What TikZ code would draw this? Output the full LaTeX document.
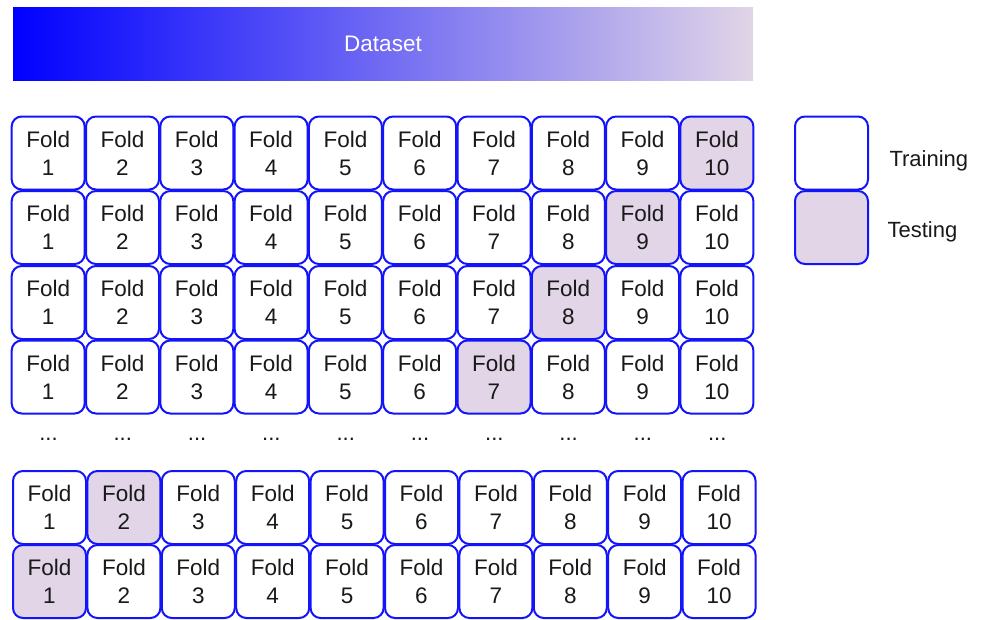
\documentclass[tikz,border=0pt]{standalone}
\usepackage{fontspec}
\setmainfont{Liberation Sans}
\definecolor{edgeblue}{RGB}{20,20,250}
\definecolor{testfill}{RGB}{225,213,231}
\tikzset{
  fold/.style={draw=edgeblue, line width=2pt, rounded corners=10pt,
    minimum width=73pt, minimum height=73pt, inner sep=0pt, align=center,
    font=\fontsize{22.5}{28}\selectfont, text=black!90},
  trainfold/.style={fold, fill=white},
  testfold/.style={fold, fill=testfill},
  gap/.style={font=\fontsize{22}{26}\selectfont, text=black!90},
  legendtext/.style={font=\fontsize{22}{26}\selectfont, text=black!90, anchor=west},
}
\begin{document}
\begin{tikzpicture}[x=1pt,y=-1pt]
\useasboundingbox (0,0) rectangle (983,619);
% dataset bar
\shade[left color=blue, right color=testfill] (13,7) rectangle (753,80);
\node[font=\fontsize{22.5}{26}\selectfont, text=white] (dataset) at (383,44) {Dataset};
% upper four rows: the test fold moves from 10 down to 7
\foreach \r/\y/\t in {1/153/10, 2/227.5/9, 3/302.5/8, 4/377/7} {
  \foreach \c in {1,...,10} {
    \pgfmathsetmacro{\xx}{48.2+74.3*(\c-1)}
    \ifnum\c=\t
      \node[testfold] (r\r c\c) at (\xx,\y) {Fold\\\c};
    \else
      \node[trainfold] (r\r c\c) at (\xx,\y) {Fold\\\c};
    \fi
  }
}
% ellipsis row
\foreach \c in {1,...,10} {
  \pgfmathsetmacro{\xx}{48.5+74.3*(\c-1)}
  \node[gap] (dots\c) at (\xx,439) {...};
}
% last two rows: test folds 2 and 1
\foreach \r/\y/\t in {5/507.5/2, 6/581.5/1} {
  \foreach \c in {1,...,10} {
    \pgfmathsetmacro{\xx}{49.5+74.4*(\c-1)}
    \ifnum\c=\t
      \node[testfold] (r\r c\c) at (\xx,\y) {Fold\\\c};
    \else
      \node[trainfold] (r\r c\c) at (\xx,\y) {Fold\\\c};
    \fi
  }
}
% legend
\node[trainfold] (legtrain) at (831.5,153) {};
\node[testfold] (legtest) at (831.5,227.5) {};
\node[legendtext] (trainlabel) at (886,161) {Training};
\node[legendtext] (testlabel) at (884,232) {Testing};
\end{tikzpicture}
\end{document}
